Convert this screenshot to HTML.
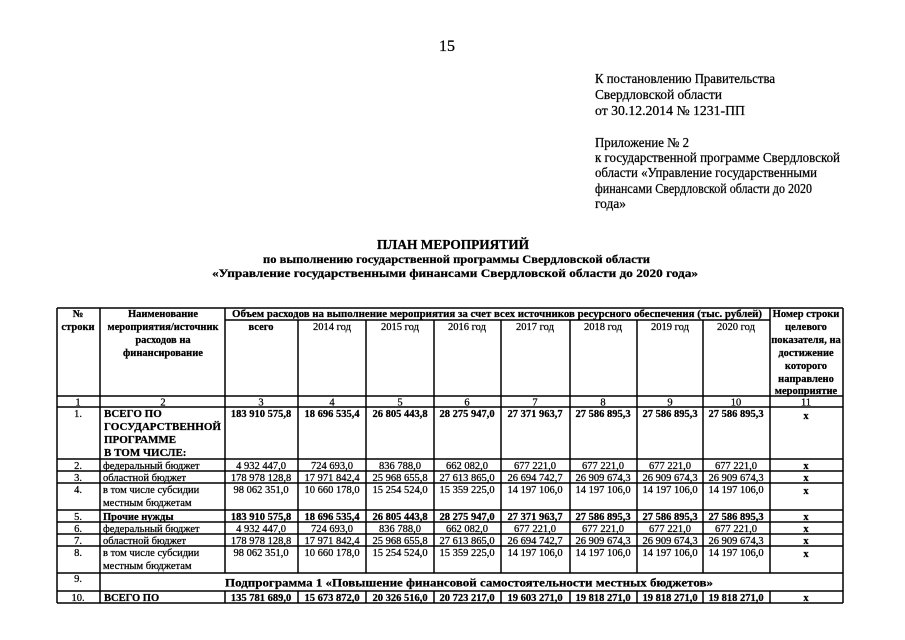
<!DOCTYPE html>
<html>
<head>
<meta charset="utf-8">
<style>
  html,body{margin:0;padding:0;background:#fff;}
  svg{display:block;}
  text{font-family:"Liberation Serif","DejaVu Serif",serif;fill:#000;stroke:#000;stroke-width:0.25px;}
  .b{font-weight:bold;}
  .c{text-anchor:middle;}
  .t{font-size:10.5px;}
  .h{font-size:10.5px;}
  .r{font-size:13.5px;}
</style>
</head>
<body>
<svg width="905" height="640" viewBox="0 0 905 640" xmlns="http://www.w3.org/2000/svg">
<rect x="0" y="0" width="905" height="640" fill="#fff"/>

<!-- page number -->
<text x="447" y="51" class="c" style="font-size:16px">15</text>

<!-- right block -->
<text x="595" y="83" class="r" textLength="180" lengthAdjust="spacingAndGlyphs">К постановлению Правительства</text>
<text x="595" y="99" class="r" textLength="127" lengthAdjust="spacingAndGlyphs">Свердловской области</text>
<text x="595" y="115" class="r" textLength="150" lengthAdjust="spacingAndGlyphs">от 30.12.2014 № 1231-ПП</text>
<text x="595" y="147" class="r" textLength="94" lengthAdjust="spacingAndGlyphs">Приложение № 2</text>
<text x="595" y="162" class="r" textLength="245" lengthAdjust="spacingAndGlyphs">к государственной программе Свердловской</text>
<text x="595" y="177" class="r" textLength="222" lengthAdjust="spacingAndGlyphs">области «Управление государственными</text>
<text x="595" y="193" class="r" textLength="217" lengthAdjust="spacingAndGlyphs">финансами Свердловской области до 2020</text>
<text x="595" y="208" class="r" textLength="31" lengthAdjust="spacingAndGlyphs">года»</text>

<!-- title -->
<text x="377" y="249" class="b" style="font-size:13.5px" textLength="152" lengthAdjust="spacingAndGlyphs">ПЛАН МЕРОПРИЯТИЙ</text>
<text x="263" y="263" class="b" style="font-size:12px" textLength="387" lengthAdjust="spacingAndGlyphs">по выполнению государственной программы Свердловской области</text>
<text x="212" y="277" class="b" style="font-size:12px" textLength="486" lengthAdjust="spacingAndGlyphs">«Управление государственными финансами Свердловской области до 2020 года»</text>

<!-- table lines -->
<g stroke="#000" stroke-width="1.5" fill="none">
  <line x1="57" y1="308" x2="843" y2="308"/>
  <line x1="225" y1="320" x2="770" y2="320"/>
  <line x1="57" y1="396" x2="843" y2="396"/>
  <line x1="57" y1="407" x2="843" y2="407"/>
  <line x1="57" y1="459" x2="843" y2="459"/>
  <line x1="57" y1="471" x2="843" y2="471"/>
  <line x1="57" y1="483" x2="843" y2="483"/>
  <line x1="57" y1="510" x2="843" y2="510"/>
  <line x1="57" y1="522" x2="843" y2="522"/>
  <line x1="57" y1="534" x2="843" y2="534"/>
  <line x1="57" y1="546" x2="843" y2="546"/>
  <line x1="57" y1="573" x2="843" y2="573"/>
  <line x1="57" y1="591" x2="843" y2="591"/>
  <line x1="57" y1="603" x2="843" y2="603"/>

  <line x1="57" y1="308" x2="57" y2="603"/>
  <line x1="100" y1="308" x2="100" y2="603"/>
  <line x1="843" y1="308" x2="843" y2="603"/>

  <line x1="225" y1="308" x2="225" y2="573"/>
  <line x1="225" y1="591" x2="225" y2="603"/>
  <line x1="770" y1="308" x2="770" y2="573"/>
  <line x1="770" y1="591" x2="770" y2="603"/>

  <line x1="298" y1="320" x2="298" y2="573"/><line x1="298" y1="591" x2="298" y2="603"/>
  <line x1="366" y1="320" x2="366" y2="573"/><line x1="366" y1="591" x2="366" y2="603"/>
  <line x1="434" y1="320" x2="434" y2="573"/><line x1="434" y1="591" x2="434" y2="603"/>
  <line x1="501" y1="320" x2="501" y2="573"/><line x1="501" y1="591" x2="501" y2="603"/>
  <line x1="570" y1="320" x2="570" y2="573"/><line x1="570" y1="591" x2="570" y2="603"/>
  <line x1="637" y1="320" x2="637" y2="573"/><line x1="637" y1="591" x2="637" y2="603"/>
  <line x1="703" y1="320" x2="703" y2="573"/><line x1="703" y1="591" x2="703" y2="603"/>
</g>

<!-- header -->
<g class="h">
  <text x="78" y="317" class="c b">№</text>
  <text x="78" y="330" class="c b">строки</text>
  <text x="163" y="317" class="c b">Наименование</text>
  <text x="163" y="330" class="c b">мероприятия/источник</text>
  <text x="163" y="343" class="c b">расходов на</text>
  <text x="163" y="356" class="c b">финансирование</text>
  <text x="232" y="317" class="b" textLength="530" lengthAdjust="spacingAndGlyphs">Объем расходов на выполнение мероприятия за счет всех источников ресурсного обеспечения (тыс. рублей)</text>
  <text x="261" y="330" class="c b">всего</text>
  <text x="332" y="330" class="c">2014 год</text>
  <text x="400" y="330" class="c">2015 год</text>
  <text x="467" y="330" class="c">2016 год</text>
  <text x="535" y="330" class="c">2017 год</text>
  <text x="603" y="330" class="c">2018 год</text>
  <text x="670" y="330" class="c">2019 год</text>
  <text x="736" y="330" class="c">2020 год</text>
  <text x="806" y="317" class="c b">Номер строки</text>
  <text x="806" y="330" class="c b">целевого</text>
  <text x="806" y="343" class="c b">показателя, на</text>
  <text x="806" y="356" class="c b">достижение</text>
  <text x="806" y="369" class="c b">которого</text>
  <text x="806" y="382" class="c b">направлено</text>
  <text x="806" y="394" class="c b">мероприятие</text>
</g>

<!-- number row -->
<g class="t">
  <text x="78" y="405.5" class="c">1</text>
  <text x="163" y="405.5" class="c">2</text>
  <text x="261" y="405.5" class="c">3</text>
  <text x="332" y="405.5" class="c">4</text>
  <text x="400" y="405.5" class="c">5</text>
  <text x="467" y="405.5" class="c">6</text>
  <text x="535" y="405.5" class="c">7</text>
  <text x="603" y="405.5" class="c">8</text>
  <text x="670" y="405.5" class="c">9</text>
  <text x="736" y="405.5" class="c">10</text>
  <text x="806" y="405.5" class="c">11</text>
</g>

<!-- row numbers -->
<g class="t">
  <text x="78" y="417" class="c">1.</text>
  <text x="78" y="469" class="c">2.</text>
  <text x="78" y="481" class="c">3.</text>
  <text x="78" y="493" class="c">4.</text>
  <text x="78" y="520" class="c">5.</text>
  <text x="78" y="532" class="c">6.</text>
  <text x="78" y="544" class="c">7.</text>
  <text x="78" y="556" class="c">8.</text>
  <text x="78" y="582" class="c">9.</text>
  <text x="78" y="601" class="c">10.</text>
</g>

<!-- names -->
<g>
  <text x="104" y="417" class="b" style="font-size:11px">ВСЕГО ПО</text>
  <text x="104" y="430" class="b" style="font-size:11px" textLength="117" lengthAdjust="spacingAndGlyphs">ГОСУДАРСТВЕННОЙ</text>
  <text x="104" y="443" class="b" style="font-size:11px">ПРОГРАММЕ</text>
  <text x="104" y="456" class="b" style="font-size:11px">В ТОМ ЧИСЛЕ:</text>
  <text x="103" y="469" class="t">федеральный бюджет</text>
  <text x="103" y="481" class="t">областной бюджет</text>
  <text x="103" y="493" class="t">в том числе субсидии</text>
  <text x="103" y="506" class="t">местным бюджетам</text>
  <text x="103" y="520" class="t b">Прочие нужды</text>
  <text x="103" y="532" class="t">федеральный бюджет</text>
  <text x="103" y="544" class="t">областной бюджет</text>
  <text x="103" y="556" class="t">в том числе субсидии</text>
  <text x="103" y="569" class="t">местным бюджетам</text>
  <text x="225" y="586.5" class="b" style="font-size:12px" textLength="488" lengthAdjust="spacingAndGlyphs">Подпрограмма 1 «Повышение финансовой самостоятельности местных бюджетов»</text>
  <text x="104" y="601" class="t b">ВСЕГО ПО</text>
</g>

<!-- row 1 -->
<g class="t b">
  <text x="261" y="417" class="c">183 910 575,8</text>
  <text x="332" y="417" class="c">18 696 535,4</text>
  <text x="400" y="417" class="c">26 805 443,8</text>
  <text x="467" y="417" class="c">28 275 947,0</text>
  <text x="535" y="417" class="c">27 371 963,7</text>
  <text x="603" y="417" class="c">27 586 895,3</text>
  <text x="670" y="417" class="c">27 586 895,3</text>
  <text x="736" y="417" class="c">27 586 895,3</text>
  <text x="806" y="419" class="c">x</text>
</g>
<!-- row 2 -->
<g class="t">
  <text x="261" y="469" class="c">4 932 447,0</text>
  <text x="332" y="469" class="c">724 693,0</text>
  <text x="400" y="469" class="c">836 788,0</text>
  <text x="467" y="469" class="c">662 082,0</text>
  <text x="535" y="469" class="c">677 221,0</text>
  <text x="603" y="469" class="c">677 221,0</text>
  <text x="670" y="469" class="c">677 221,0</text>
  <text x="736" y="469" class="c">677 221,0</text>
  <text x="806" y="469" class="c b">x</text>
</g>
<!-- row 3 -->
<g class="t">
  <text x="261" y="481" class="c">178 978 128,8</text>
  <text x="332" y="481" class="c">17 971 842,4</text>
  <text x="400" y="481" class="c">25 968 655,8</text>
  <text x="467" y="481" class="c">27 613 865,0</text>
  <text x="535" y="481" class="c">26 694 742,7</text>
  <text x="603" y="481" class="c">26 909 674,3</text>
  <text x="670" y="481" class="c">26 909 674,3</text>
  <text x="736" y="481" class="c">26 909 674,3</text>
  <text x="806" y="481" class="c b">x</text>
</g>
<!-- row 4 -->
<g class="t">
  <text x="261" y="493" class="c">98 062 351,0</text>
  <text x="332" y="493" class="c">10 660 178,0</text>
  <text x="400" y="493" class="c">15 254 524,0</text>
  <text x="467" y="493" class="c">15 359 225,0</text>
  <text x="535" y="493" class="c">14 197 106,0</text>
  <text x="603" y="493" class="c">14 197 106,0</text>
  <text x="670" y="493" class="c">14 197 106,0</text>
  <text x="736" y="493" class="c">14 197 106,0</text>
  <text x="806" y="494" class="c b">x</text>
</g>
<!-- row 5 -->
<g class="t b">
  <text x="261" y="520" class="c">183 910 575,8</text>
  <text x="332" y="520" class="c">18 696 535,4</text>
  <text x="400" y="520" class="c">26 805 443,8</text>
  <text x="467" y="520" class="c">28 275 947,0</text>
  <text x="535" y="520" class="c">27 371 963,7</text>
  <text x="603" y="520" class="c">27 586 895,3</text>
  <text x="670" y="520" class="c">27 586 895,3</text>
  <text x="736" y="520" class="c">27 586 895,3</text>
  <text x="806" y="520" class="c">x</text>
</g>
<!-- row 6 -->
<g class="t">
  <text x="261" y="532" class="c">4 932 447,0</text>
  <text x="332" y="532" class="c">724 693,0</text>
  <text x="400" y="532" class="c">836 788,0</text>
  <text x="467" y="532" class="c">662 082,0</text>
  <text x="535" y="532" class="c">677 221,0</text>
  <text x="603" y="532" class="c">677 221,0</text>
  <text x="670" y="532" class="c">677 221,0</text>
  <text x="736" y="532" class="c">677 221,0</text>
  <text x="806" y="532" class="c b">x</text>
</g>
<!-- row 7 -->
<g class="t">
  <text x="261" y="544" class="c">178 978 128,8</text>
  <text x="332" y="544" class="c">17 971 842,4</text>
  <text x="400" y="544" class="c">25 968 655,8</text>
  <text x="467" y="544" class="c">27 613 865,0</text>
  <text x="535" y="544" class="c">26 694 742,7</text>
  <text x="603" y="544" class="c">26 909 674,3</text>
  <text x="670" y="544" class="c">26 909 674,3</text>
  <text x="736" y="544" class="c">26 909 674,3</text>
  <text x="806" y="544" class="c b">x</text>
</g>
<!-- row 8 -->
<g class="t">
  <text x="261" y="556" class="c">98 062 351,0</text>
  <text x="332" y="556" class="c">10 660 178,0</text>
  <text x="400" y="556" class="c">15 254 524,0</text>
  <text x="467" y="556" class="c">15 359 225,0</text>
  <text x="535" y="556" class="c">14 197 106,0</text>
  <text x="603" y="556" class="c">14 197 106,0</text>
  <text x="670" y="556" class="c">14 197 106,0</text>
  <text x="736" y="556" class="c">14 197 106,0</text>
  <text x="806" y="557" class="c b">x</text>
</g>
<!-- row 10 -->
<g class="t b">
  <text x="261" y="601" class="c">135 781 689,0</text>
  <text x="332" y="601" class="c">15 673 872,0</text>
  <text x="400" y="601" class="c">20 326 516,0</text>
  <text x="467" y="601" class="c">20 723 217,0</text>
  <text x="535" y="601" class="c">19 603 271,0</text>
  <text x="603" y="601" class="c">19 818 271,0</text>
  <text x="670" y="601" class="c">19 818 271,0</text>
  <text x="736" y="601" class="c">19 818 271,0</text>
  <text x="806" y="601" class="c">x</text>
</g>
</svg>
</body>
</html>
